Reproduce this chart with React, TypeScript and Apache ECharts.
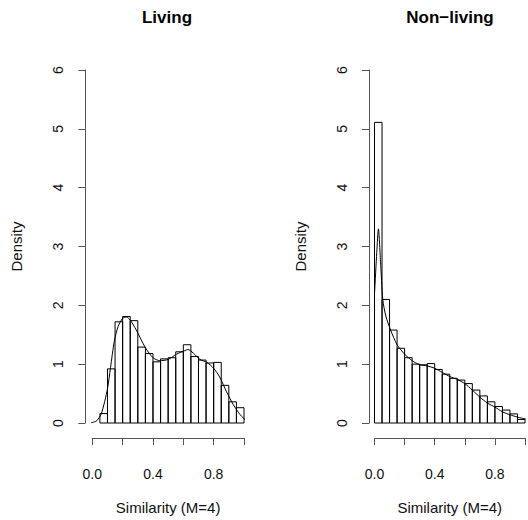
import React, { useEffect, useRef } from "react";
import * as echarts from "echarts";

// Histogram bins (left edge) and bin width
const binWidth = 0.05;
const livingBinStarts = [0.05, 0.1, 0.15, 0.2, 0.25, 0.3, 0.35, 0.4, 0.45, 0.5, 0.55, 0.6, 0.65, 0.7, 0.75, 0.8, 0.85, 0.9, 0.95];
const livingDensity = [0.16, 0.92, 1.72, 1.81, 1.74, 1.29, 1.18, 1.04, 1.09, 1.11, 1.21, 1.33, 1.13, 1.07, 1.02, 1.03, 0.64, 0.36, 0.26];

const nonLivingBinStarts = [0.0, 0.05, 0.1, 0.15, 0.2, 0.25, 0.3, 0.35, 0.4, 0.45, 0.5, 0.55, 0.6, 0.65, 0.7, 0.75, 0.8, 0.85, 0.9, 0.95];
const nonLivingDensity = [5.11, 2.1, 1.58, 1.27, 1.11, 1.0, 0.99, 1.01, 0.91, 0.83, 0.76, 0.73, 0.67, 0.56, 0.46, 0.36, 0.28, 0.22, 0.155, 0.06];

// Kernel density curves
const livingKdeX = [-0.04, 0.0, 0.03, 0.06, 0.1, 0.12, 0.145, 0.17, 0.2, 0.225, 0.25, 0.29, 0.35, 0.4, 0.445, 0.5, 0.555, 0.61, 0.63, 0.665, 0.71, 0.755, 0.8, 0.84, 0.885, 0.93, 0.975, 1.02, 1.04];
const livingKdeY = [0.0, 0.01, 0.04, 0.16, 0.58, 0.94, 1.39, 1.64, 1.78, 1.8, 1.75, 1.58, 1.28, 1.11, 1.06, 1.08, 1.17, 1.23, 1.25, 1.19, 1.08, 1.03, 0.93, 0.78, 0.53, 0.31, 0.14, 0.03, 0.01];

const nonLivingKdeX = [-0.04, -0.02, 0.0, 0.015, 0.026, 0.04, 0.055, 0.075, 0.107, 0.15, 0.2, 0.25, 0.3, 0.35, 0.4, 0.45, 0.5, 0.55, 0.6, 0.65, 0.7, 0.75, 0.8, 0.85, 0.9, 0.95, 1.0, 1.04];
const nonLivingKdeY = [0.94, 1.45, 2.2, 2.9, 3.3, 2.75, 2.1, 1.82, 1.58, 1.33, 1.17, 1.06, 0.99, 0.97, 0.93, 0.86, 0.79, 0.74, 0.67, 0.56, 0.44, 0.34, 0.27, 0.19, 0.14, 0.1, 0.07, 0.04];

const panelTitles = ["Living", "Non\u2212living"];
const xAxisTitle = "Similarity (M=4)";
const yAxisTitle = "Density";
const xTickLabels = ["0.0", "", "0.4", "", "0.8", ""];
const yTickLabels = ["0", "1", "2", "3", "4", "5", "6"];

const FONT = "'Liberation Sans', Arial, Helvetica, sans-serif";

export default function App() {
  const ref = useRef<HTMLDivElement>(null);

  useEffect(() => {
    if (!ref.current) return;
    const chart = echarts.init(ref.current, null, { renderer: "svg" });

    const grids = [
      { left: 92.3, top: 70, width: 151.7, height: 360, yOff: 7 },
      { left: 374.5, top: 70, width: 153, height: 360, yOff: 5.5 },
    ];

    const histData = [
      livingBinStarts.map((s, i) => [s, s + binWidth, livingDensity[i]]),
      nonLivingBinStarts.map((s, i) => [s, s + binWidth, nonLivingDensity[i]]),
    ];
    const kdeData = [
      livingKdeX.map((x, i) => [x, livingKdeY[i]]),
      nonLivingKdeX.map((x, i) => [x, nonLivingKdeY[i]]),
    ];

    const axisColor = "#555";
    const textColor = "#111";

    const option: any = {
      animation: false,
      backgroundColor: "#fff",
      textStyle: { fontFamily: FONT },
      grid: grids.map((g) => ({ left: g.left, top: g.top, width: g.width, height: g.height, containLabel: false })),
      xAxis: grids.map((g, i) => ({
        type: "value",
        gridIndex: i,
        min: 0,
        max: 1,
        interval: 0.2,
        offset: 15,
        splitLine: { show: false },
        axisLine: { show: true, onZero: false, lineStyle: { color: axisColor, width: 1 } },
        axisTick: { show: true, length: 7, inside: false, lineStyle: { color: axisColor } },
        axisLabel: {
          show: true,
          margin: 29,
          fontSize: 14,
          color: textColor,
          fontFamily: FONT,
          showMinLabel: true,
          showMaxLabel: true,
          formatter: (_v: number, idx: number) => xTickLabels[idx] ?? "",
        },
        name: xAxisTitle,
        nameLocation: "middle",
        nameGap: 62,
        nameTextStyle: { fontSize: 15, color: textColor, fontFamily: FONT },
      })),
      yAxis: grids.map((g, i) => ({
        type: "value",
        gridIndex: i,
        min: 0,
        max: 6,
        interval: 1,
        offset: g.yOff,
        splitLine: { show: false },
        axisLine: { show: true, onZero: false, lineStyle: { color: axisColor, width: 1 } },
        axisTick: { show: true, length: 7, inside: false, lineStyle: { color: axisColor } },
        axisLabel: {
          show: true,
          rotate: 90,
          margin: 20,
          fontSize: 14,
          color: textColor,
          fontFamily: FONT,
          showMinLabel: true,
          showMaxLabel: true,
          formatter: (_v: number, idx: number) => yTickLabels[idx] ?? "",
        },
        name: yAxisTitle,
        nameLocation: "middle",
        nameGap: 61,
        nameTextStyle: { fontSize: 15, color: textColor, fontFamily: FONT },
      })),
      series: [0, 1].flatMap((i) => [
        {
          type: "custom",
          xAxisIndex: i,
          yAxisIndex: i,
          clip: false,
          data: histData[i],
          encode: { x: [0, 1], y: 2 },
          renderItem: (_params: any, api: any) => {
            const x0 = api.value(0);
            const x1 = api.value(1);
            const h = api.value(2);
            const pTop = api.coord([x0, h]);
            const pBot = api.coord([x1, 0]);
            return {
              type: "rect",
              shape: {
                x: pTop[0],
                y: pTop[1],
                width: pBot[0] - pTop[0],
                height: pBot[1] - pTop[1],
              },
              style: { fill: "none", stroke: "#000", lineWidth: 1 },
            };
          },
          z: 2,
        },
        {
          type: "line",
          xAxisIndex: i,
          yAxisIndex: i,
          data: kdeData[i],
          showSymbol: false,
          symbol: "none",
          smooth: 0.25,
          clip: false,
          lineStyle: { color: "#000", width: 1 },
          z: 3,
        },
      ]),
      graphic: [
        {
          type: "text",
          x: 167,
          y: 17,
          style: {
            text: panelTitles[0],
            align: "center",
            verticalAlign: "middle",
            fontSize: 17,
            fontWeight: "bold",
            fontFamily: FONT,
            fill: "#000",
          },
        },
        {
          type: "text",
          x: 450,
          y: 17,
          style: {
            text: panelTitles[1],
            align: "center",
            verticalAlign: "middle",
            fontSize: 17,
            fontWeight: "bold",
            fontFamily: FONT,
            fill: "#000",
          },
        },
      ],
    };

    chart.setOption(option);
    return () => {
      chart.dispose();
    };
  }, []);

  return (
    <div
      ref={ref}
      style={{ position: "fixed", left: 0, top: 0, width: 528, height: 520, background: "#fff" }}
    />
  );
}
